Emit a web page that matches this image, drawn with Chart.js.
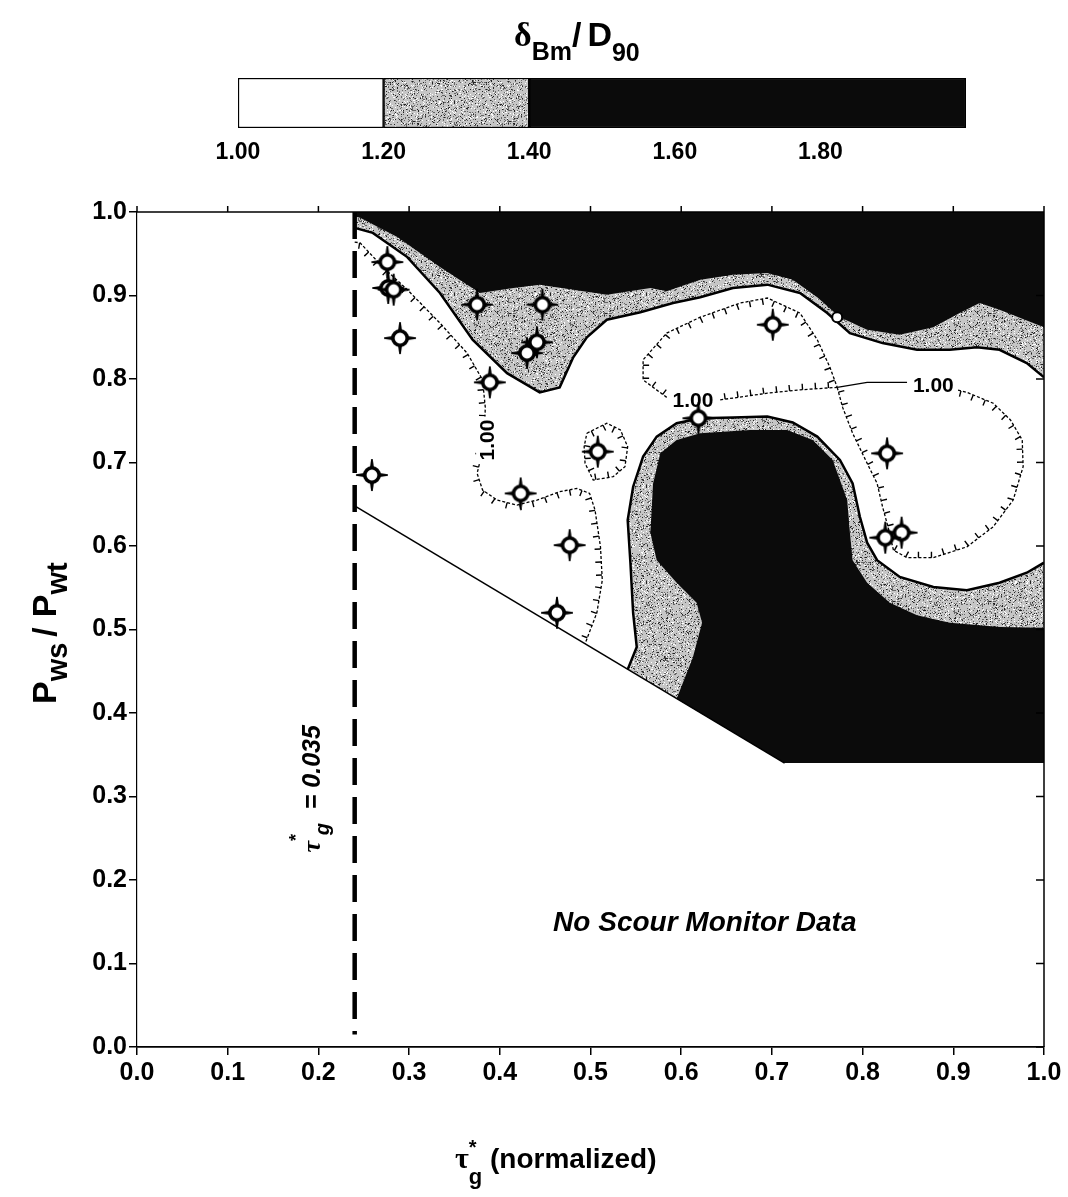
<!DOCTYPE html>
<html>
<head>
<meta charset="utf-8">
<title>Armour ratio contours</title>
<script src="https://cdn.jsdelivr.net/npm/chart.js@4.4.1/dist/chart.umd.min.js"></script>
<style>
  body { margin: 0; background: #fff; }
  #page { position: relative; width: 1068px; height: 1197px; }
  #page canvas { position: absolute; left: 0; top: 0; }
</style>
</head>
<body>
<div id="page">
  <canvas id="plot" width="1068" height="1197"></canvas>
  <canvas id="scaleBar" width="1068" height="170"></canvas>
</div>
<script>
const SANS = '"Liberation Sans", Arial, sans-serif';
const SERIF = '"Liberation Serif", "DejaVu Serif", serif';

// contour levels of dBm/D90 shown in the scale bar
const levelBreaks = [1.0, 1.2, 1.4, 2.0];
const scaleBarTicks = [1.0, 1.2, 1.4, 1.6, 1.8];

// critical shear, tau*g = 0.035
const tauLineX = [0.24, 0.24];
const tauLineY = [1.0, 0.015];

// lower edge of the monitored region
const edgeX = [0.240, 0.714];
const edgeY = [0.648, 0.340];
const edgeFloorY = 0.340;

// 1.20 contour below the top band
const topLineX = [0.240, 0.260, 0.298, 0.334, 0.370, 0.408, 0.444, 0.466, 0.481, 0.496, 0.518, 0.555, 0.591,
                  0.621, 0.657, 0.695, 0.731, 0.761, 0.786, 0.822, 0.860, 0.896, 0.926, 0.951, 0.981, 1.000];
const topLineY = [0.981, 0.975, 0.946, 0.903, 0.847, 0.807, 0.784, 0.790, 0.826, 0.850, 0.871, 0.880, 0.891,
                  0.898, 0.909, 0.913, 0.903, 0.879, 0.855, 0.843, 0.835, 0.835, 0.838, 0.835, 0.819, 0.802];

// 1.40 contour of the top band
const topBlackX = [0.246, 0.287, 0.334, 0.378, 0.415, 0.444, 0.481, 0.518, 0.566, 0.584, 0.621, 0.657,
                   0.695, 0.723, 0.750, 0.775, 0.805, 0.841, 0.878, 0.907, 0.929, 0.951, 0.988, 1.000];
const topBlackY = [0.993, 0.970, 0.934, 0.903, 0.909, 0.913, 0.907, 0.901, 0.909, 0.905, 0.919, 0.925,
                   0.927, 0.919, 0.898, 0.874, 0.859, 0.853, 0.862, 0.879, 0.891, 0.883, 0.867, 0.862];

// 1.20 contour around the lower right mound
const blobOuterX = [0.541, 0.551, 0.547, 0.544, 0.541, 0.547, 0.558, 0.573, 0.595, 0.621, 0.657, 0.695, 0.723,
                    0.750, 0.775, 0.789, 0.797, 0.805, 0.816, 0.841, 0.878, 0.915, 0.951, 0.981, 1.000];
const blobOuterY = [0.452, 0.479, 0.520, 0.580, 0.631, 0.671, 0.707, 0.731, 0.747, 0.753, 0.754, 0.755, 0.748,
                    0.731, 0.703, 0.675, 0.635, 0.604, 0.583, 0.563, 0.551, 0.547, 0.556, 0.568, 0.580];

// 1.40 contour of the lower right mound
const blobInnerX = [0.595, 0.613, 0.623, 0.617, 0.595, 0.573, 0.566, 0.569, 0.577, 0.595, 0.621, 0.676,
                    0.717, 0.745, 0.767, 0.783, 0.786, 0.789, 0.805, 0.830, 0.860, 0.896, 0.951, 1.000];
const blobInnerY = [0.417, 0.467, 0.508, 0.532, 0.556, 0.583, 0.616, 0.675, 0.711, 0.727, 0.735, 0.739,
                    0.739, 0.727, 0.703, 0.655, 0.616, 0.583, 0.556, 0.532, 0.517, 0.508, 0.503, 0.502];

// 1.00 contours (hachured, ticks point downhill)
const hLeftX = [0.240, 0.246, 0.271, 0.298, 0.334, 0.364, 0.381, 0.384, 0.383, 0.379, 0.375, 0.381, 0.397,
                0.419, 0.441, 0.466, 0.485, 0.499, 0.505, 0.511, 0.513, 0.507, 0.494];
const hLeftY = [0.964, 0.963, 0.934, 0.907, 0.867, 0.831, 0.799, 0.766, 0.735, 0.705, 0.687, 0.667, 0.655,
                0.649, 0.655, 0.665, 0.669, 0.663, 0.643, 0.599, 0.559, 0.520, 0.483];
const hUpperX = [0.584, 0.558, 0.558, 0.584, 0.621, 0.665, 0.695, 0.731, 0.750, 0.764, 0.772];
const hUpperY = [0.778, 0.799, 0.823, 0.855, 0.874, 0.891, 0.897, 0.879, 0.847, 0.814, 0.790];
const hLobeX = [0.772, 0.778, 0.789, 0.805, 0.816, 0.822, 0.828, 0.834, 0.849, 0.878, 0.915, 0.944,
                0.966, 0.977, 0.976, 0.963, 0.944, 0.915, 0.904];
const hLobeY = [0.790, 0.766, 0.735, 0.699, 0.675, 0.647, 0.623, 0.595, 0.586, 0.586, 0.599, 0.623,
                0.655, 0.695, 0.727, 0.751, 0.771, 0.784, 0.787];
const hSaddleX = [0.643, 0.695, 0.731, 0.772];
const hSaddleY = [0.775, 0.783, 0.787, 0.790];
const hSaddleRightX = [0.772, 0.805, 0.849];
const hSaddleRightY = [0.790, 0.796, 0.796];
const hSmallX = [0.496, 0.518, 0.533, 0.541, 0.538, 0.525, 0.503, 0.494, 0.493, 0.496];
const hSmallY = [0.735, 0.747, 0.739, 0.719, 0.695, 0.683, 0.679, 0.699, 0.719, 0.735];

// contour labels
const labelText = ['1.00', '1.00', '1.00'];
const labelX = [0.613, 0.878, 0.386];
const labelY = [0.775, 0.793, 0.727];
const labelAngle = [0, 0, -90];

// scour monitor observations
const markerX = [0.276, 0.277, 0.283, 0.290, 0.259, 0.389, 0.375, 0.447, 0.441, 0.430,
                 0.508, 0.423, 0.477, 0.463, 0.619, 0.701, 0.827, 0.843, 0.825];
const markerY = [0.940, 0.909, 0.907, 0.849, 0.685, 0.796, 0.889, 0.889, 0.844, 0.831,
                 0.713, 0.663, 0.601, 0.520, 0.753, 0.865, 0.711, 0.616, 0.610];
const smallMarkerX = [0.772];
const smallMarkerY = [0.874];

function pts(xs, ys) {
  return xs.map((x, i) => ({ x: x, y: ys[i] }));
}

// speckled grey used for the 1.20 - 1.40 band
function makeStipple(ctx) {
  const c = document.createElement('canvas');
  c.width = 96;
  c.height = 96;
  const g = c.getContext('2d');
  g.fillStyle = '#c6c6c6';
  g.fillRect(0, 0, 96, 96);
  let seed = 12345;
  const next = () => (seed = (seed * 16807) % 2147483647) / 2147483647;
  for (let i = 0; i < 2600; i++) {
    const px = Math.floor(next() * 96);
    const py = Math.floor(next() * 96);
    const r = next();
    g.fillStyle = r < 0.5 ? '#666' : r < 0.7 ? '#222' : '#fff';
    g.fillRect(px, py, 1, 1);
  }
  return ctx.createPattern(c, 'repeat');
}

// open circle with error whiskers
function makeMarker() {
  const c = document.createElement('canvas');
  c.width = 38;
  c.height = 38;
  const g = c.getContext('2d');
  const m = 19;
  g.fillStyle = '#000';
  [[1, 0], [-1, 0], [0, 1], [0, -1]].forEach(([dx, dy]) => {
    const px = -dy, py = dx;
    g.beginPath();
    g.moveTo(m + dx * 6 + px * 2.2, m + dy * 6 + py * 2.2);
    g.lineTo(m + dx * 16 + px * 0.8, m + dy * 16 + py * 0.8);
    g.lineTo(m + dx * 16 - px * 0.8, m + dy * 16 - py * 0.8);
    g.lineTo(m + dx * 6 - px * 2.2, m + dy * 6 - py * 2.2);
    g.closePath();
    g.fill();
  });
  g.beginPath();
  g.arc(m, m, 7.2, 0, Math.PI * 2);
  g.fillStyle = '#fff';
  g.fill();
  g.lineWidth = 3.6;
  g.strokeStyle = '#000';
  g.stroke();
  return c;
}

// draws text pieces one after another, with sub/superscript offsets
function drawRich(ctx, parts, x, y) {
  let cx = x;
  parts.forEach((p) => {
    ctx.font = p.font;
    ctx.fillText(p.t, cx, y + (p.dy || 0));
    if (!p.stay) cx += ctx.measureText(p.t).width + (p.gap || 0);
  });
  return cx - x;
}

const plotCanvas = document.getElementById('plot');
const plotCtx = plotCanvas.getContext('2d');
const stipple = makeStipple(plotCtx);
const markerImg = makeMarker();
const BLACK = '#0b0b0b';

function areaSet(data, color, order) {
  return {
    data: data,
    showLine: true,
    fill: 'shape',
    backgroundColor: color,
    borderColor: 'rgba(0,0,0,0)',
    borderWidth: 0,
    pointRadius: 0,
    order: order
  };
}

function lineSet(data, width, order, extra) {
  return Object.assign({
    data: data,
    showLine: true,
    fill: false,
    borderColor: '#000',
    borderWidth: width,
    pointRadius: 0,
    order: order
  }, extra || {});
}

const floor = [{ x: 1.0, y: edgeFloorY }, { x: edgeX[1], y: edgeFloorY }];
const topCorners = [{ x: 0.24, y: 1.0 }, { x: 1.0, y: 1.0 }];

const datasets = [
  areaSet(topCorners.concat(pts(topLineX, topLineY).reverse()), stipple, 20),
  areaSet(topCorners.concat(pts(topBlackX, topBlackY).reverse(), [{ x: 0.24, y: 0.995 }]), BLACK, 19),
  areaSet(pts(blobOuterX, blobOuterY).concat(floor), stipple, 18),
  areaSet(pts(blobInnerX, blobInnerY).concat(floor), BLACK, 17),
  lineSet(pts(topLineX, topLineY), 2.5, 12),
  lineSet(pts(blobOuterX, blobOuterY), 2.5, 11),
  lineSet(pts(edgeX, edgeY), 1.6, 10),
  lineSet(pts(hLeftX, hLeftY), 1.3, 9, { borderDash: [3, 2], hachure: 1 }),
  lineSet(pts(hUpperX, hUpperY), 1.3, 8, { borderDash: [3, 2], hachure: 1 }),
  lineSet(pts(hLobeX, hLobeY), 1.3, 7, { borderDash: [3, 2], hachure: -1 }),
  lineSet(pts(hSaddleX, hSaddleY), 1.3, 6, { borderDash: [3, 2], hachure: -1 }),
  lineSet(pts(hSaddleRightX, hSaddleRightY), 1.3, 6, {}),
  lineSet(pts(hSmallX, hSmallY), 1.3, 5, { borderDash: [3, 2], hachure: 1 }),
  lineSet(pts(tauLineX, tauLineY), 4.5, 4, { borderDash: [27, 12] }),
  {
    data: pts(markerX, markerY),
    pointStyle: markerImg,
    pointRadius: 12,
    order: 2,
    role: 'markers'
  },
  {
    data: pts(smallMarkerX, smallMarkerY),
    pointStyle: 'circle',
    pointRadius: 5,
    backgroundColor: '#fff',
    borderColor: '#000',
    borderWidth: 2,
    order: 1
  }
];

// tick marks along hachured contours, plus the contour value labels
const hachurePlugin = {
  id: 'hachure',
  afterDatasetDraw(chart, args) {
    const ds = chart.data.datasets[args.index];
    if (!ds.hachure) return;
    const p = args.meta.data;
    const ctx = chart.ctx;
    ctx.save();
    ctx.strokeStyle = '#000';
    ctx.lineWidth = 1.4;
    ctx.beginPath();
    let carry = 5;
    for (let i = 1; i < p.length; i++) {
      const ax = p[i - 1].x, ay = p[i - 1].y;
      const dx = p[i].x - ax, dy = p[i].y - ay;
      const len = Math.hypot(dx, dy);
      if (!len) continue;
      const ux = dx / len, uy = dy / len;
      const nx = -uy * ds.hachure, ny = ux * ds.hachure;
      let d = carry;
      while (d < len) {
        const px = ax + ux * d, py = ay + uy * d;
        ctx.moveTo(px, py);
        ctx.lineTo(px + nx * 6, py + ny * 6);
        d += 13;
      }
      carry = d - len;
    }
    ctx.stroke();
    ctx.restore();
  },
  beforeDatasetDraw(chart, args) {
    const ds = chart.data.datasets[args.index];
    if (ds.role !== 'markers') return;
    const ctx = chart.ctx;
    const xs = chart.scales.x, ys = chart.scales.y;
    ctx.save();
    ctx.font = 'bold 21px ' + SANS;
    ctx.textAlign = 'center';
    ctx.textBaseline = 'middle';
    labelText.forEach((t, i) => {
      const w = ctx.measureText(t).width;
      ctx.save();
      ctx.translate(xs.getPixelForValue(labelX[i]), ys.getPixelForValue(labelY[i]));
      ctx.rotate(labelAngle[i] * Math.PI / 180);
      ctx.fillStyle = '#fff';
      ctx.fillRect(-w / 2 - 3, -11, w + 6, 22);
      ctx.fillStyle = '#000';
      ctx.fillText(t, 0, 1);
      ctx.restore();
    });
    ctx.restore();
  }
};

// frame, top/right ticks and the text annotations
const framePlugin = {
  id: 'frame',
  afterDraw(chart) {
    const ctx = chart.ctx;
    const a = chart.chartArea;
    const xs = chart.scales.x, ys = chart.scales.y;
    ctx.save();
    ctx.strokeStyle = '#000';
    ctx.lineWidth = 1.5;
    ctx.beginPath();
    ctx.moveTo(a.left, a.top);
    ctx.lineTo(a.right, a.top);
    ctx.lineTo(a.right, a.bottom);
    xs.ticks.forEach((t) => {
      const px = xs.getPixelForValue(t.value);
      ctx.moveTo(px, a.top);
      ctx.lineTo(px, a.top - 6);
    });
    ys.ticks.forEach((t) => {
      const py = ys.getPixelForValue(t.value);
      ctx.moveTo(a.right, py);
      ctx.lineTo(a.right - 8, py);
    });
    ctx.stroke();

    ctx.fillStyle = '#000';
    ctx.textAlign = 'left';
    ctx.textBaseline = 'alphabetic';

    // x axis title
    drawRich(ctx, [
      { t: '\u03c4', font: 'bold 30px ' + SERIF },
      { t: '*', font: 'bold 20px ' + SANS, dy: -14, stay: true },
      { t: 'g', font: 'bold 22px ' + SANS, dy: 16 },
      { t: ' (normalized)', font: 'bold 28px ' + SANS }
    ], 455, 1168);

    // y axis title
    ctx.save();
    ctx.translate(56, 704);
    ctx.rotate(-Math.PI / 2);
    drawRich(ctx, [
      { t: 'P', font: 'bold 34px ' + SANS },
      { t: 'ws', font: 'bold 29px ' + SANS, dy: 11, gap: 6 },
      { t: '/', font: 'bold 34px ' + SANS, gap: 10 },
      { t: 'P', font: 'bold 34px ' + SANS },
      { t: 'wt', font: 'bold 29px ' + SANS, dy: 11 }
    ], 0, 0);
    ctx.restore();

    // label of the critical shear line
    ctx.save();
    ctx.translate(xs.getPixelForValue(0.202), ys.getPixelForValue(0.233));
    ctx.rotate(-Math.PI / 2);
    drawRich(ctx, [
      { t: '\u03c4', font: 'bold italic 26px ' + SERIF },
      { t: '*', font: 'bold 18px ' + SANS, dy: -18, stay: true },
      { t: ' g', font: 'bold italic 20px ' + SANS, dy: 9 },
      { t: '  = 0.035', font: 'bold italic 25px ' + SANS }
    ], 0, 0);
    ctx.restore();

    ctx.textAlign = 'center';
    ctx.font = 'bold italic 28px ' + SANS;
    ctx.fillText('No Scour Monitor Data', xs.getPixelForValue(0.626), ys.getPixelForValue(0.139));
    ctx.restore();
  }
};

const tickFont = { family: SANS, size: 25, weight: 'bold' };

new Chart(plotCtx, {
  type: 'scatter',
  data: { datasets: datasets },
  options: {
    responsive: false,
    animation: false,
    events: [],
    layout: { padding: { top: 212, right: 24, left: 0, bottom: 0 } },
    plugins: { legend: { display: false }, tooltip: { enabled: false } },
    scales: {
      x: {
        type: 'linear',
        min: 0,
        max: 1,
        afterFit: (s) => { s.height = 150; },
        ticks: { stepSize: 0.1, color: '#000', font: tickFont, padding: 3, maxRotation: 0, autoSkip: false,
                 callback: (v) => v.toFixed(1) },
        grid: { drawOnChartArea: false, color: '#000', tickColor: '#000', tickLength: 8, lineWidth: 1.5 },
        border: { color: '#000', width: 1.8 }
      },
      y: {
        type: 'linear',
        min: 0,
        max: 1,
        afterFit: (s) => { s.width = 137; },
        ticks: { stepSize: 0.1, color: '#000', font: tickFont, padding: 2, autoSkip: false,
                 callback: (v) => v.toFixed(1) },
        grid: { drawOnChartArea: false, color: '#000', tickColor: '#000', tickLength: 8, lineWidth: 1.5 },
        border: { color: '#000', width: 1.2 }
      }
    }
  },
  plugins: [hachurePlugin, framePlugin]
});

// scale bar for the contour levels
const barTitlePlugin = {
  id: 'barTitle',
  afterDraw(chart) {
    const ctx = chart.ctx;
    ctx.save();
    ctx.fillStyle = '#000';
    ctx.textAlign = 'left';
    ctx.textBaseline = 'alphabetic';
    drawRich(ctx, [
      { t: '\u03b4', font: 'bold 34px ' + SERIF },
      { t: 'Bm', font: 'bold 25px ' + SANS, dy: 14 },
      { t: '/', font: 'bold 34px ' + SANS, gap: 6 },
      { t: 'D', font: 'bold 34px ' + SANS },
      { t: '90', font: 'bold 25px ' + SANS, dy: 15 }
    ], 514, 46);
    ctx.restore();
  }
};

const barCtx = document.getElementById('scaleBar').getContext('2d');
const bandColors = ['#fff', stipple, BLACK];
new Chart(barCtx, {
  type: 'bar',
  data: {
    labels: ['level'],
    datasets: bandColors.map((c, i) => ({
      data: [[levelBreaks[i], levelBreaks[i + 1]]],
      backgroundColor: c,
      borderColor: '#000',
      borderWidth: 1.5,
      borderSkipped: false,
      grouped: false,
      barPercentage: 1,
      categoryPercentage: 1
    }))
  },
  options: {
    indexAxis: 'y',
    responsive: false,
    animation: false,
    events: [],
    layout: { padding: { left: 238, right: 102, top: 78, bottom: 0 } },
    plugins: { legend: { display: false }, tooltip: { enabled: false } },
    scales: {
      y: { display: false },
      x: {
        type: 'linear',
        min: levelBreaks[0],
        max: levelBreaks[levelBreaks.length - 1],
        afterFit: (s) => { s.height = 42; },
        afterBuildTicks: (s) => { s.ticks = scaleBarTicks.map((v) => ({ value: v })); },
        ticks: { color: '#000', font: { family: SANS, size: 23, weight: 'bold' }, padding: 11,
                 maxRotation: 0, autoSkip: false, callback: (v) => v.toFixed(2) },
        grid: { display: false, drawTicks: false },
        border: { display: false }
      }
    }
  },
  plugins: [barTitlePlugin]
});
</script>
</body>
</html>
